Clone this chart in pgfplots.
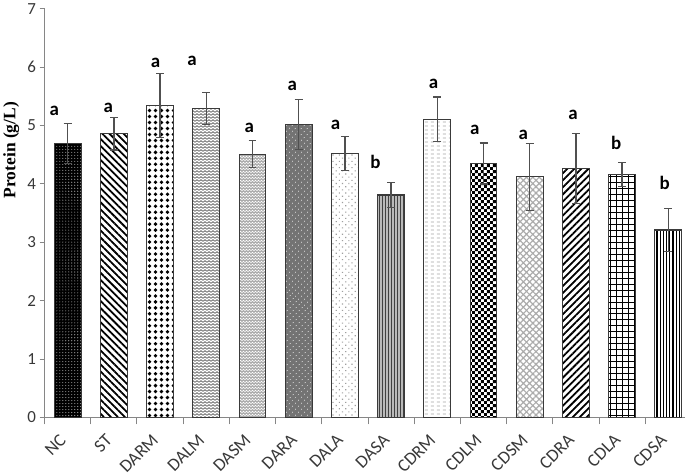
\documentclass[border=0pt]{standalone}
\usepackage{pgfplots}
\pgfplotsset{compat=1.18}
\usepackage{fontspec}
\setmainfont{Carlito}
\newfontfamily\timesfont{Liberation Serif}
\usetikzlibrary{patterns,patterns.meta}

\definecolor{axisgray}{HTML}{868686}
\definecolor{ticktext}{HTML}{383838}
\definecolor{errgray}{HTML}{505050}
\definecolor{bardraw}{HTML}{3A3A3A}

\tikzdeclarepattern{
  name=zigzag,
  type=uncolored,
  bounding box={(0,0) and (4pt,3pt)},
  tile size={(4pt,3pt)},
  code={\draw[line width=0.7pt] (0,0.6pt) -- (2pt,2.4pt) -- (4pt,0.6pt);}
}
\tikzdeclarepattern{
  name=zigzagfine,
  type=uncolored,
  bounding box={(0,0) and (3pt,2.5pt)},
  tile size={(3pt,2.5pt)},
  code={\draw[line width=0.6pt] (0,0.5pt) -- (1.5pt,2pt) -- (3pt,0.5pt);}
}
\tikzdeclarepattern{
  name=checker,
  type=uncolored,
  bounding box={(0,0) and (6pt,6pt)},
  tile size={(6pt,6pt)},
  code={\fill (0,0) rectangle (3pt,3pt); \fill (3pt,3pt) rectangle (6pt,6pt);}
}
\tikzdeclarepattern{
  name=hdash,
  type=uncolored,
  bounding box={(0,0) and (6pt,4pt)},
  tile size={(6pt,4pt)},
  code={\draw[line width=0.9pt] (0.8pt,2pt) -- (4pt,2pt);}
}

\pgfplotsset{
  mybar/.style={ybar, bar width=0.58, bar shift=0pt, draw=bardraw, line width=1.1pt},
}

\begin{document}
\begin{tikzpicture}
\begin{axis}[
  scale only axis,
  width=642pt, height=410pt,
  xmin=-0.5, xmax=13.35,
  ymin=0, ymax=7,
  axis lines=left,
  axis line style={-, draw=axisgray, line width=1pt},
  ytick={0,1,...,7},
  tick align=outside,
  major tick length=5pt,
  minor tick length=7pt,
  ytick style={draw=axisgray, line width=1pt},
  yticklabel style={font=\fontsize{17}{17}\selectfont, text=ticktext},
  /pgf/number format/assume math mode=true,
  xtick={0,1,...,13},
  xticklabels={NC,ST,DARM,DALM,DASM,DARA,DALA,DASA,CDRM,CDLM,CDSM,CDRA,CDLA,CDSA},
  minor xtick={-0.5,0.5,...,12.5},
  major x tick style={draw=none},
  minor x tick style={draw=axisgray, line width=1pt},
  xticklabel style={xshift=-9pt, yshift=-9pt, inner sep=1pt, font=\fontsize{18}{18}\selectfont, text=ticktext, rotate=45, anchor=north east},
  ylabel={\timesfont\bfseries\fontsize{17.5}{18}\selectfont Protein (g/L)},
  ylabel style={at={(axis description cs:-0.052,0.654)}, anchor=center, rotate=0},
  clip=false,
]
% bars
\addplot[mybar, fill=black, postaction={pattern={Dots[radius=0.55pt,distance=3pt]}, pattern color=gray!70}] coordinates {(0,4.69)};
\addplot[mybar, fill=white, postaction={pattern={Lines[angle=-45,distance=5pt,line width=1.8pt]}, pattern color=black}] coordinates {(1,4.86)};
\addplot[mybar, fill=white, postaction={pattern={Dots[radius=1.9pt,distance=6pt]}, pattern color=black}] coordinates {(2,5.34)};
\addplot[mybar, fill=white, postaction={pattern=zigzag, pattern color=gray!75!black}] coordinates {(3,5.29)};
\addplot[mybar, fill=gray!65, postaction={pattern=zigzagfine, pattern color=white}] coordinates {(4,4.51)};
\addplot[mybar, fill=black!55, postaction={pattern={Dots[radius=0.6pt,distance=4pt,angle=45]}, pattern color=gray!15}] coordinates {(5,5.02)};
\addplot[mybar, fill=white, postaction={pattern={Dots[radius=0.8pt,distance=4.5pt,angle=45]}, pattern color=gray!75}] coordinates {(6,4.52)};
\addplot[mybar, fill=gray!55, postaction={pattern={Lines[angle=90,distance=3pt,line width=1pt]}, pattern color=black!75}] coordinates {(7,3.81)};
\addplot[mybar, fill=white, postaction={pattern=hdash, pattern color=gray!70}] coordinates {(8,5.11)};
\addplot[mybar, fill=white, postaction={pattern=checker, pattern color=black}] coordinates {(9,4.35)};
\addplot[mybar, fill=white, postaction={pattern={Hatch[angle=45,distance=4.5pt,line width=1.2pt]}, pattern color=gray!65}] coordinates {(10,4.12)};
\addplot[mybar, fill=white, postaction={pattern={Lines[angle=45,distance=5pt,line width=1.8pt]}, pattern color=black}] coordinates {(11,4.26)};
\addplot[mybar, fill=white, postaction={pattern={Hatch[angle=0,distance=6pt,line width=0.7pt]}, pattern color=black}] coordinates {(12,4.16)};
\addplot[mybar, fill=white, postaction={pattern={Lines[angle=90,distance=3.2pt,line width=1.2pt]}, pattern color=black}] coordinates {(13,3.21)};
% error bars
\addplot[draw=none, mark=none,
  error bars/.cd, y dir=both, y explicit,
  error bar style={draw=errgray, line width=1.3pt},
  error mark options={draw=errgray, line width=1.3pt, rotate=90, mark size=4pt}]
coordinates {
(0,4.69) +- (0,0.34)
(1,4.86) +- (0,0.28)
(2,5.34) +- (0,0.55)
(3,5.29) +- (0,0.27)
(4,4.51) +- (0,0.23)
(5,5.02) +- (0,0.43)
(6,4.52) +- (0,0.29)
(7,3.81) +- (0,0.22)
(8,5.11) +- (0,0.38)
(9,4.35) +- (0,0.35)
(10,4.12) +- (0,0.57)
(11,4.26) +- (0,0.60)
(12,4.16) +- (0,0.21)
(13,3.21) +- (0,0.37)
};
% significance letters
\addplot[draw=none, mark=none, nodes near coords, point meta=explicit symbolic,
  every node near coord/.append style={anchor=base, inner sep=0pt, text=black, font=\bfseries\fontsize{19}{19}\selectfont}]
coordinates {
(-0.29,5.18) [a]
(0.88,5.22) [a]
(1.90,5.99) [a]
(2.69,6.03) [a]
(3.93,4.88) [a]
(4.86,5.60) [a]
(5.80,4.93) [a]
(6.66,4.27) [b]
(7.92,5.64) [a]
(8.81,4.84) [a]
(9.86,4.76) [a]
(10.94,5.11) [a]
(11.87,4.59) [b]
(12.92,3.90) [b]
};
\end{axis}
\end{tikzpicture}
\end{document}
